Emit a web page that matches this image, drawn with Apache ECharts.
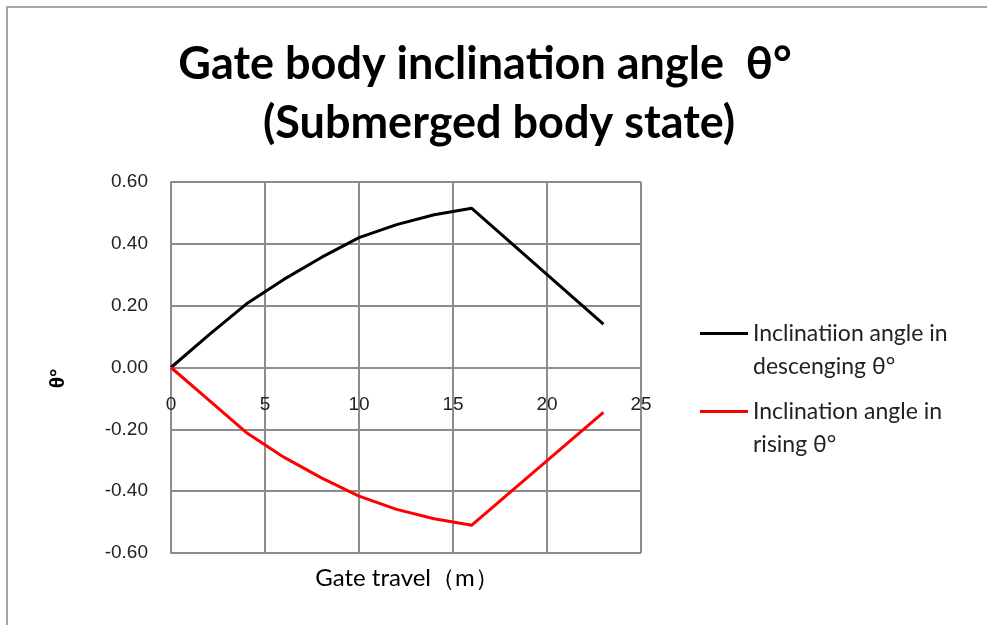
<!DOCTYPE html>
<html>
<head>
<meta charset="utf-8">
<script src="https://cdn.jsdelivr.net/npm/echarts@6/dist/echarts.min.js"></script>
<style>
html,body{margin:0;padding:0;background:#fff;}
#chart{width:987px;height:625px;}
</style>
</head>
<body>
<div id="chart"></div>
<script>
var travel = [0, 2, 4, 6, 8, 10, 12, 14, 16, 23];
var descending = [0, 0.105, 0.205, 0.285, 0.356, 0.42, 0.462, 0.494, 0.515, 0.14];
var rising = [0, -0.105, -0.21, -0.29, -0.357, -0.416, -0.459, -0.489, -0.51, -0.145];
var yTicks = [-0.6, -0.4, -0.2, 0, 0.2, 0.4, 0.6];
var xTicks = [0, 5, 10, 15, 20, 25];
var seriesNames = ['Inclinatiion angle in\ndescenging θ°', 'Inclination angle in\nrising θ°'];
var titleLine1 = 'Gate body inclination angle  θ°';
var titleLine2 = '(Submerged body state)';
var xName = 'Gate travel（m）';
var yName = 'θ°';

function pairs(xs, ys) { return xs.map(function (x, i) { return [x, ys[i]]; }); }

var chart = echarts.init(document.getElementById('chart'));
var gridColor = '#8c8c8c';
var gridTop = 182, gridBottom = 72, gridHeight = 625 - gridTop - gridBottom;
var yMin = yTicks[0], yMax = yTicks[yTicks.length - 1];
// place the x axis at value 0 of the y axis
var zeroOffset = -gridHeight * (0 - yMin) / (yMax - yMin);
var legendText = { fontFamily: 'Lato', fontSize: 23, lineHeight: 33, color: '#222' };
function legendFor(name, top) {
  return {
    orient: 'vertical', left: 700, top: top, padding: 0, itemWidth: 48, itemHeight: 3, itemGap: 0,
    icon: 'rect', textStyle: legendText, data: [name],
    formatter: function (n) { return '\n' + n; }
  };
}
var titleStyle = { fontFamily: 'Lato', fontWeight: 'bold', fontSize: 45, lineHeight: 58, color: '#000' };
chart.setOption({
  backgroundColor: '#fff',
  animation: false,
  title: [{
    text: titleLine1, left: 485, top: 35, textAlign: 'center', padding: 0, textStyle: titleStyle
  }, {
    text: titleLine2, left: 499, top: 94, textAlign: 'center', padding: 0, textStyle: titleStyle
  }, {
    text: xName, left: 407, top: 566, textAlign: 'center', padding: 0,
    textStyle: { fontFamily: 'Lato', fontWeight: 'normal', fontSize: 24, color: '#000' }
  }],
  graphic: [{
    type: 'rect', shape: { x: 7, y: 7, width: 1000, height: 700 },
    style: { fill: 'none', stroke: '#a6a6a6', lineWidth: 2 }, silent: true, z: -1
  }],
  legend: [legendFor(seriesNames[0], 284), legendFor(seriesNames[1], 362)],
  grid: { left: 171, right: 346, top: gridTop, bottom: gridBottom, show: false },
  xAxis: {
    type: 'value', min: xTicks[0], max: xTicks[xTicks.length - 1], interval: 5,
    position: 'bottom', offset: zeroOffset,
    axisLine: { onZero: false, lineStyle: { color: gridColor, width: 2 } },
    axisTick: { show: false },
    axisLabel: { margin: 28, fontFamily: 'Liberation Sans', fontSize: 19, color: '#222' },
    splitLine: { show: true, lineStyle: { color: gridColor, width: 2 } }
  },
  yAxis: {
    type: 'value', min: yMin, max: yMax, interval: 0.2,
    axisLine: { show: true, onZero: false, lineStyle: { color: gridColor, width: 2 } },
    axisTick: { show: false },
    axisLabel: { margin: 23, fontFamily: 'Liberation Sans', fontSize: 19, color: '#222',
      formatter: function (v) { return v.toFixed(2); } },
    splitLine: { show: true, lineStyle: { color: gridColor, width: 2 } },
    name: yName, nameLocation: 'middle', nameGap: 102,
    nameTextStyle: { fontFamily: 'Liberation Sans', fontWeight: 'bold', fontSize: 21, color: '#000', padding: [0, 22, 0, 0] }
  },
  series: [{
    name: seriesNames[0], type: 'line', data: pairs(travel, descending), showSymbol: false, symbol: 'none',
    lineStyle: { color: '#000', width: 3 }, itemStyle: { color: '#000' }, z: 3
  }, {
    name: seriesNames[1], type: 'line', data: pairs(travel, rising), showSymbol: false, symbol: 'none',
    lineStyle: { color: '#ff0000', width: 3 }, itemStyle: { color: '#ff0000' }, z: 3
  }]
});
</script>
</body>
</html>
